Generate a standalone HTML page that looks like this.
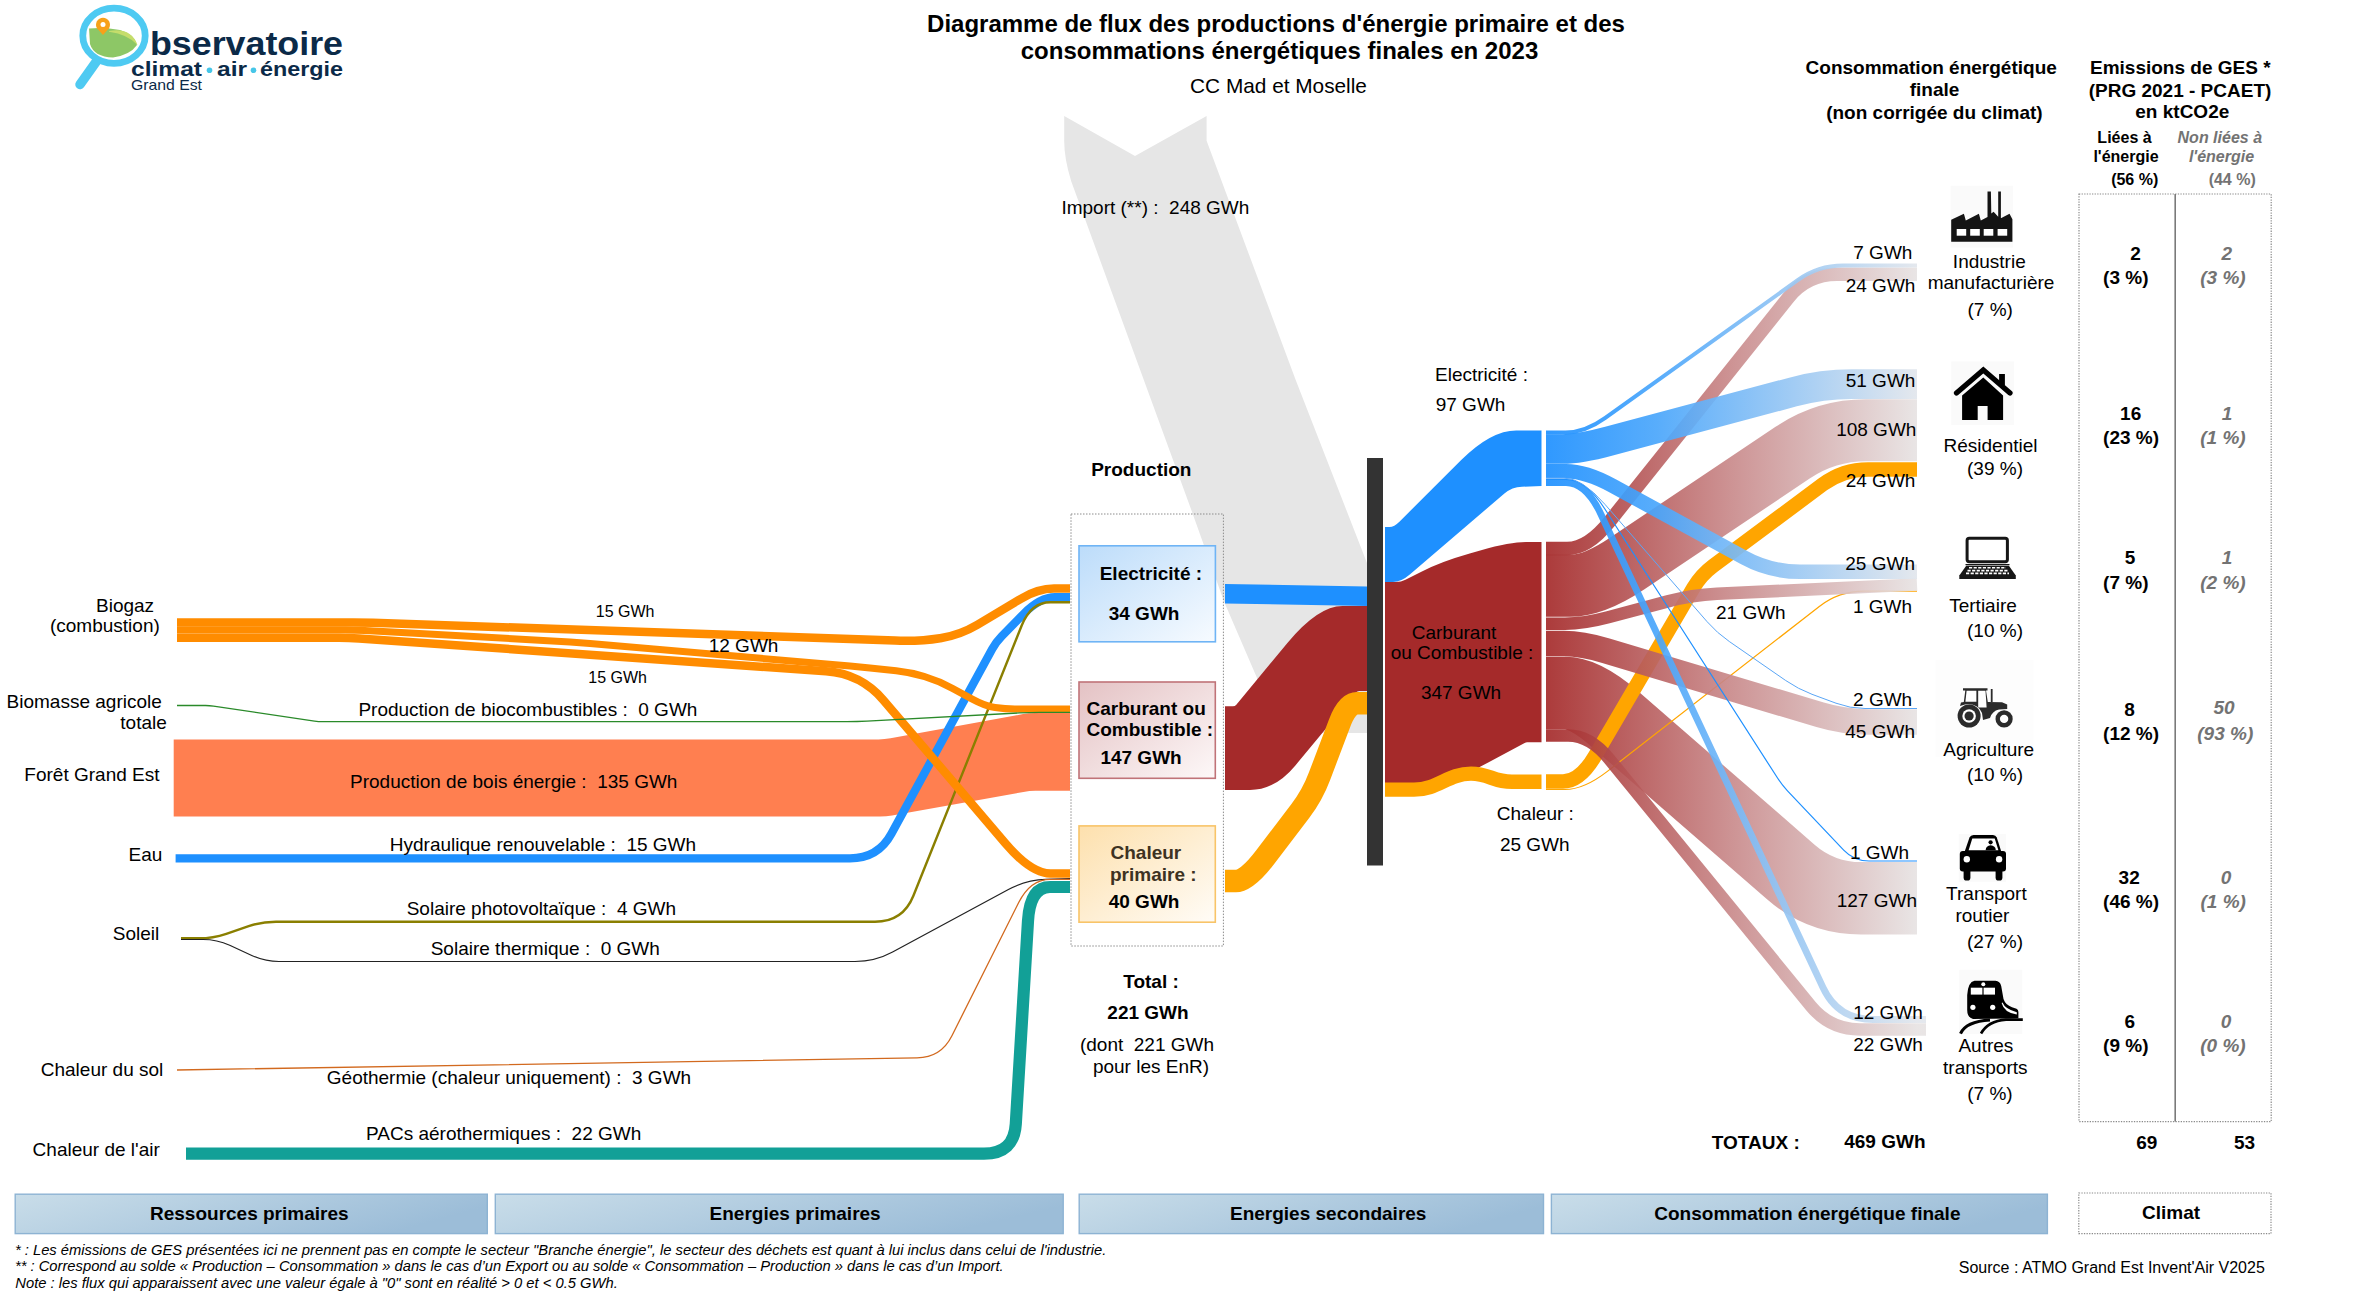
<!DOCTYPE html>
<html><head><meta charset="utf-8"><title>Diagramme de flux</title>
<style>
html,body{margin:0;padding:0;background:#fff;}
svg{display:block;font-family:"Liberation Sans",sans-serif;}
</style></head><body>
<svg width="2370" height="1299" viewBox="0 0 2370 1299">
<defs>
<linearGradient id="gElecBox" x1="0" y1="0" x2="1" y2="1"><stop offset="0" stop-color="#bcdcfa"/><stop offset="1" stop-color="#f7fbff"/></linearGradient>
<linearGradient id="gCarbBox" x1="0" y1="0" x2="1" y2="1"><stop offset="0" stop-color="#e4c2c4"/><stop offset="1" stop-color="#fdf8f8"/></linearGradient>
<linearGradient id="gChalBox" x1="0" y1="0" x2="1" y2="1"><stop offset="0" stop-color="#fde0ad"/><stop offset="1" stop-color="#fffcf7"/></linearGradient>
<linearGradient id="gBar" x1="0" y1="0" x2="1" y2="0.3"><stop offset="0" stop-color="#c9dde9"/><stop offset="1" stop-color="#9cbdd8"/></linearGradient>
<linearGradient id="gBlue" gradientUnits="userSpaceOnUse" x1="1546" y1="0" x2="1917" y2="0"><stop offset="0" stop-color="#1e90ff"/><stop offset="0.3" stop-color="#4aa6fb"/><stop offset="1" stop-color="#e2e6ec"/></linearGradient>
<linearGradient id="gRed" gradientUnits="userSpaceOnUse" x1="1546" y1="0" x2="1917" y2="0"><stop offset="0" stop-color="#a52a2a"/><stop offset="0.5" stop-color="#c98a8b"/><stop offset="1" stop-color="#e7e3e3"/></linearGradient>
</defs>
<rect x="0" y="0" width="2370" height="1299" fill="#fff"/>
<path d="M1064.2,116 L1135,156 L1206.6,116 L1206.6,140.7 L1295.7,380 L1367,563 L1367,733 L1322,733 Q1272,733 1256.6,677 L1224,601.6 L1191.7,511 L1071.3,181.5 Q1064,158 1064.2,140 Z" fill="#e6e6e6"/>
<path d="M173.7,739.4 L878.6,739.4 Q884.6,739.4 890.5,738.3 L1023.1,714.1 Q1029.0,713.0 1035.0,713.0 L1070.0,713.0 L1070.0,790.8 L1035.4,790.8 Q1029.4,790.8 1023.5,791.9 L892.1,815.4 Q886.2,816.5 880.2,816.5 L173.7,816.5 Z" fill="#ff7f50"/>
<path d="M175.6,858.4 L850.0,858.4 Q878.0,858.4 891.4,833.8 L992.2,649.0 Q996.0,642.0 1001.6,636.3 L1023.2,614.3 Q1040.0,597.2 1055.0,597.2 L1070.0,597.2" fill="none" stroke="#1e90ff" stroke-width="8.3" stroke-linejoin="round" />
<path d="M181.0,938.3 L199.0,938.3 Q213.0,938.3 226.3,933.8 L248.7,926.2 Q262.0,921.7 276.0,921.7 L875.0,921.7 Q903.0,921.7 913.4,895.7 L1021.7,625.5 Q1031.0,602.3 1050.5,602.3 L1070.0,602.3" fill="none" stroke="#8a7f00" stroke-width="2.4" stroke-linejoin="round" />
<path d="M181.0,939.5 L203.0,939.5 Q217.0,939.5 229.7,945.3 L252.3,955.7 Q265.0,961.5 279.0,961.5 L855.0,961.5 Q875.0,961.5 892.6,952.0 L1008.4,889.5 Q1026.0,880.0 1046.0,879.4 L1070.0,878.6" fill="none" stroke="#222" stroke-width="1.2" stroke-linejoin="round" />
<path d="M177.0,1070.0 L917.0,1057.9 Q941.0,1057.5 951.8,1036.0 L1018.7,902.5 Q1030.4,879.3 1050.2,879.3 L1070.0,879.3" fill="none" stroke="#d2691e" stroke-width="1.3" stroke-linejoin="round" />
<path d="M186.0,1153.7 L984.0,1153.7 Q1014.0,1153.7 1015.8,1123.8 L1028.0,920.9 Q1030.0,887.0 1050.0,887.0 L1070.0,887.0" fill="none" stroke="#12a097" stroke-width="12.2" stroke-linejoin="round" />
<path d="M177.0,622.4 L353.0,622.4 Q363.0,622.4 373.0,622.7 L895.0,640.6 Q920.0,641.5 940.0,638.2 L940.3,638.2 Q960.0,635.0 977.2,624.8 L1020.8,598.8 Q1038.0,588.6 1054.0,588.6 L1070.0,588.6" fill="none" stroke="#ff8c00" stroke-width="8.5" stroke-linejoin="round" />
<path d="M177.0,630.0 L345.0,630.0 Q355.0,630.0 365.0,630.6 L570.0,641.9 Q580.0,642.5 590.0,643.4 L850.0,666.1 Q860.0,667.0 869.9,668.1 L896.2,670.8 Q926.0,674.0 952.4,688.3 L971.8,698.8 Q985.0,706.0 995.0,707.5 L995.1,707.5 Q1005.0,709.0 1015.0,709.0 L1070.0,709.0" fill="none" stroke="#ff8c00" stroke-width="7.0" stroke-linejoin="round" />
<path d="M177.0,637.8 L339.0,637.8 Q349.0,637.8 359.0,638.5 L826.1,671.3 Q861.0,673.7 883.7,700.4 L1005.1,843.0 Q1031.0,873.5 1050.5,873.5 L1070.0,873.5" fill="none" stroke="#ff8c00" stroke-width="8.5" stroke-linejoin="round" />
<path d="M177.0,705.5 L205.5,705.5 Q209.5,705.5 213.5,706.1 L314.5,721.1 Q318.5,721.7 322.5,721.7 L847.0,721.7 Q857.0,721.7 867.0,721.2 L1019.4,712.9 Q1029.4,712.4 1039.4,712.4 L1070.0,712.4" fill="none" stroke="#2a8a2a" stroke-width="1.3" stroke-linejoin="round" />
<rect x="1071" y="514" width="152.4" height="432" fill="none" stroke="#8c8c8c" stroke-width="1" stroke-dasharray="1.5,1.5"/>
<rect x="1079" y="545.8" width="136.4" height="96" fill="url(#gElecBox)" stroke="#6fb4f5" stroke-width="1.6"/>
<rect x="1079" y="682" width="136.3" height="96.3" fill="url(#gCarbBox)" stroke="#c07378" stroke-width="1.6"/>
<rect x="1079" y="825.9" width="136.3" height="96.3" fill="url(#gChalBox)" stroke="#f8c468" stroke-width="1.6"/>
<path d="M1225,583.9 L1367,586.5 L1367,605.9 L1225,603.6 Z" fill="#1e90ff"/>
<path d="M1225.0,706.2 L1233.0,706.2 Q1235.0,706.2 1236.3,704.7 L1287.4,642.9 Q1318.0,605.9 1342.5,605.9 L1367.0,605.9 L1367.0,691.0 L1359.2,691.0 Q1357.2,691.0 1355.9,692.5 L1295.4,765.4 Q1275.0,790.0 1250.0,790.0 L1225.0,790.0 Z" fill="#a52a2a"/>
<path d="M1225.0,881.0 L1236.0,881.0 Q1247.0,881.0 1265.2,857.1 L1300.4,810.9 Q1312.5,795.0 1319.5,776.3 L1339.3,723.9 Q1347.0,703.3 1357.0,703.3 L1367.0,703.3" fill="none" stroke="#ffa500" stroke-width="22.5" stroke-linejoin="round" />
<rect x="1367" y="458" width="16" height="407.5" fill="#333333"/>
<path d="M1385.0,527.0 L1389.5,527.0 Q1394.0,527.0 1399.7,521.4 L1461.2,460.1 Q1491.0,430.5 1516.2,430.5 L1541.5,430.5 L1541.5,486.0 L1522.0,486.7 Q1512.0,487.0 1504.4,493.5 L1410.1,574.2 Q1401.0,582.0 1393.0,582.0 L1385.0,582.0 Z" fill="#1e90ff"/>
<path d="M1385.0,582.0 L1396.0,582.0 Q1401.0,582.0 1405.5,579.7 L1420.9,571.9 Q1440.8,561.7 1469.7,553.5 L1481.1,550.3 Q1510.0,542.1 1525.8,542.1 L1541.5,542.1 L1541.5,742.2 L1527.0,742.2 Q1526.0,742.2 1525.1,742.7 L1480.6,766.6 Q1478.0,768.0 1475.4,769.5 L1474.5,770.0 Q1471.0,772.0 1466.1,773.2 L1423.7,783.6 Q1414.0,786.0 1404.0,786.0 L1385.0,786.0 Z" fill="#a52a2a"/>
<path d="M1385,789.6 L1414,789.6 C1438,789.6 1448,773.6 1471,773.6 C1489,773.6 1493,781.8 1512,781.8 L1541.5,781.8" fill="none" stroke="#ffa500" stroke-width="14.4"/>
<path d="M1546.0,693.0 L1565.5,693.0 Q1585.0,693.0 1615.2,719.3 L1790.8,872.0 Q1821.0,898.3 1861.0,898.3 L1917.0,898.3" fill="none" stroke="url(#gRed)" stroke-width="72.5" stroke-linejoin="round" opacity="0.92"/>
<path d="M1546.0,781.5 L1563.0,781.5 Q1580.0,781.5 1595.2,755.6 L1693.4,587.9 Q1701.0,575.0 1713.0,566.0 L1822.9,484.3 Q1843.0,469.4 1868.0,469.4 L1917.0,469.4" fill="none" stroke="#ffa500" stroke-width="14.5" stroke-linejoin="round" />
<path d="M1546.0,789.5 L1565.0,789.5 Q1584.0,789.5 1607.7,771.1 L1819.3,606.5 Q1839.0,591.2 1864.0,591.2 L1917.0,591.2" fill="none" stroke="#ffa500" stroke-width="1.2" stroke-linejoin="round" />
<path d="M1546.0,548.5 L1567.0,548.5 Q1588.0,548.5 1609.8,521.2 L1788.3,297.7 Q1807.0,274.3 1837.0,274.3 L1917.0,274.3" fill="none" stroke="url(#gRed)" stroke-width="13.5" stroke-linejoin="round" opacity="0.92"/>
<path d="M1546.0,585.8 L1570.0,585.8 Q1594.0,585.8 1627.2,563.5 L1792.8,452.6 Q1826.0,430.3 1866.0,430.3 L1917.0,430.3" fill="none" stroke="url(#gRed)" stroke-width="62.0" stroke-linejoin="round" opacity="0.92"/>
<path d="M1546.0,623.7 L1565.0,623.7 Q1584.0,623.7 1608.2,617.3 L1667.8,601.4 Q1692.0,595.0 1717.0,593.8 L1917.0,584.5" fill="none" stroke="url(#gRed)" stroke-width="12.5" stroke-linejoin="round" opacity="0.92"/>
<path d="M1546.0,643.5 L1564.0,643.5 Q1582.0,643.5 1605.9,650.7 L1820.1,714.8 Q1844.0,722.0 1869.0,722.0 L1917.0,722.0" fill="none" stroke="url(#gRed)" stroke-width="25.7" stroke-linejoin="round" opacity="0.92"/>
<path d="M1546.0,735.5 L1568.0,735.5 Q1590.0,735.5 1609.0,758.7 L1811.0,1006.2 Q1830.0,1029.4 1860.0,1029.4 L1926.0,1029.4" fill="none" stroke="url(#gRed)" stroke-width="12.5" stroke-linejoin="round" opacity="0.92"/>
<path d="M1546.0,432.5 L1565.5,432.5 Q1585.0,432.5 1605.3,417.9 L1797.7,280.2 Q1818.0,265.6 1843.0,265.6 L1917.0,265.6" fill="none" stroke="url(#gBlue)" stroke-width="4.0" stroke-linejoin="round" opacity="0.92"/>
<path d="M1546.0,449.0 L1563.0,449.0 Q1580.0,449.0 1609.0,441.2 L1793.0,392.0 Q1822.0,384.2 1852.0,384.2 L1917.0,384.2" fill="none" stroke="url(#gBlue)" stroke-width="29.7" stroke-linejoin="round" opacity="0.92"/>
<path d="M1546.0,471.2 L1566.0,471.2 Q1586.0,471.2 1612.3,485.6 L1743.7,557.4 Q1770.0,571.8 1800.0,571.8 L1917.0,571.8" fill="none" stroke="url(#gBlue)" stroke-width="14.6" stroke-linejoin="round" opacity="0.92"/>
<path d="M1546.0,482.5 L1566.0,482.5 Q1586.0,482.5 1600.9,514.2 L1823.1,987.8 Q1838.0,1019.5 1873.0,1019.5 L1926.0,1019.5" fill="none" stroke="url(#gBlue)" stroke-width="6.8" stroke-linejoin="round" opacity="0.92"/>
<path d="M1546.0,479.5 L1566.0,479.5 Q1586.0,479.5 1604.9,509.0 L1777.7,778.3 Q1782.0,785.0 1787.5,790.8 L1843.7,850.1 Q1854.0,861.0 1869.0,861.0 L1917.0,861.0" fill="none" stroke="#1e90ff" stroke-width="1.2" stroke-linejoin="round" />
<path d="M1546.0,478.0 L1564.0,478.0 Q1582.0,478.0 1605.0,504.4 L1707.1,621.7 Q1717.0,633.0 1729.3,641.5 L1785.7,680.5 Q1798.0,689.0 1812.0,694.3 L1836.0,703.2 Q1850.0,708.5 1865.0,708.5 L1917.0,708.5" fill="none" stroke="#5aa6f6" stroke-width="1.0" stroke-linejoin="round" />
<rect x="2079" y="194" width="192.2" height="927.6" fill="none" stroke="#8a8a8a" stroke-width="1.2" stroke-dasharray="1.3,1.3"/>
<line x1="2175.2" y1="194" x2="2175.2" y2="1121.6" stroke="#7a7a7a" stroke-width="1.6"/>
<rect x="15.2" y="1194.2" width="472.1" height="39.4" fill="url(#gBar)" stroke="#8db3d3" stroke-width="1.4"/>
<rect x="495.3" y="1194.2" width="567.9" height="39.4" fill="url(#gBar)" stroke="#8db3d3" stroke-width="1.4"/>
<rect x="1079.2" y="1194.2" width="464.3" height="39.4" fill="url(#gBar)" stroke="#8db3d3" stroke-width="1.4"/>
<rect x="1551.4" y="1194.2" width="496.0" height="39.4" fill="url(#gBar)" stroke="#8db3d3" stroke-width="1.4"/>
<rect x="2078.8" y="1193" width="192.2" height="40.6" fill="none" stroke="#8a8a8a" stroke-width="1.2" stroke-dasharray="1.3,1.3"/>

<rect x="1950.6" y="185.8" width="62.4" height="61.8" fill="#fafafa"/>
<path d="M1951.2,241.8 L1951.2,219.8 L1963.9,213.7 L1965.8,220.5 L1978.9,213.7 L1980.8,220.5 L1987.5,217 L1987.5,191.5 L1990.9,191.5 L1991.3,213.5 L1993.6,211.8 L1998.2,216.8 L1998.2,191.5 L2000.9,191.5 L2000.9,218.2 L2009.5,213.7 L2012.4,219.3 L2012.4,241.8 Z" fill="#141414"/>
<g fill="#fff"><rect x="1956.7" y="229" width="9.5" height="6.7"/><rect x="1970.2" y="229" width="9.6" height="6.7"/><rect x="1983.7" y="229" width="9.6" height="6.7"/><rect x="1997.6" y="229" width="9.6" height="6.7"/></g>
<rect x="1951.2" y="361.5" width="62.9" height="63.5" fill="#fafafa"/>
<polyline points="1956.5,393 1983.3,370 2010,393" fill="none" stroke="#000" stroke-width="5.2" stroke-linecap="round" stroke-linejoin="miter"/>
<rect x="1999.1" y="374" width="5.8" height="11" fill="#000"/>
<path d="M1962.1,395.6 L1983.3,377.6 L2003.1,395.6 L2003.1,419.9 L1987.6,419.9 L1987.6,406 L1977.7,406 L1977.7,419.9 L1962.1,419.9 Z" fill="#000"/>
<rect x="1967.1" y="538.2" width="40.3" height="23.6" rx="2.2" fill="none" stroke="#161616" stroke-width="3"/>
<path d="M1965.5,564 L2009.5,564 L2009.5,565.3 L1965.5,565.3 Z" fill="#161616"/>
<path d="M1966.2,565.8 L2008.9,565.8 L2015.8,575.5 L2015.8,578.9 L1959.3,578.9 L1959.3,575.5 Z" fill="#161616"/>
<g stroke="#fff" stroke-width="1.6" stroke-dasharray="3.2,1.4"><line x1="1969" y1="567.8" x2="2006" y2="567.8"/><line x1="1967.5" y1="570.6" x2="2007.5" y2="570.6"/><line x1="1966" y1="573.4" x2="2009" y2="573.4"/></g>
<rect x="1935.6" y="660" width="98" height="97" fill="#fdfdfd"/>
<g fill="#2b2b2b">
<circle cx="1969.1" cy="716" r="11.5"/><circle cx="2004.1" cy="718.9" r="8.6"/>
<path d="M1963,688.3 L1987.5,688.3 L1987.5,690.6 L1986,690.6 L1987.8,702 L2002,702.2 L2007.2,704.5 L2007.2,709 L1999,709.5 Q1992,711 1990,718 L1983,720 L1982,713 Q1978,703 1965,704.5 L1960,706 L1961,702.5 L1963.8,702 L1965.3,690.6 L1963,690.6 Z"/>
<rect x="1990.8" y="689" width="1.8" height="13"/>
</g>
<g fill="#fff">
<circle cx="1969.1" cy="716" r="6.8"/><circle cx="2004.1" cy="718.9" r="4.2"/>
<path d="M1966.6,690.8 L1976.4,690.8 L1976.4,701.8 L1965.4,701.8 Z"/><path d="M1978.2,690.8 L1985.5,690.8 L1986.6,707.5 L1978.2,707.5 Z"/>
</g>
<circle cx="1969.1" cy="716" r="4.6" fill="#2b2b2b"/>
<rect x="1958.7" y="833.9" width="47.3" height="47.9" fill="#fafafa"/>
<path d="M1964.5,852 L1969.5,837.6 Q1970.6,835 1973.5,835 L1993,835 Q1995.7,835 1996.8,837.6 L2001.4,852 Z" fill="#000"/>
<path d="M1968.6,850.2 L1972.3,838.6 L1994.7,838.6 L1998.4,850.2 Z" fill="#fff"/>
<circle cx="1990.6" cy="842.3" r="2.1" fill="#000"/><path d="M1985.6,850.2 Q1986,845.6 1990.6,845.3 Q1995.5,845.6 1995.8,850.2 Z" fill="#000"/>
<rect x="1959.8" y="851" width="46.2" height="20.4" rx="3" fill="#000"/>
<circle cx="1966.8" cy="859.3" r="3.2" fill="#fff"/><circle cx="1999.1" cy="859.3" r="3.2" fill="#fff"/>
<rect x="1963.6" y="868" width="6.8" height="12.6" rx="3.2" fill="#000"/><rect x="1995.6" y="868" width="6.8" height="12.6" rx="3.2" fill="#000"/>
<rect x="1959.3" y="969.8" width="62.9" height="64.1" fill="#fafafa"/>
<path d="M1974.5,980.8 L1995.5,980.8 Q2000,981 2001.2,986 L2003.5,999 Q2005.5,1005 2012,1007.2 L2016.5,1008.8 Q2018.4,1009.8 2018.4,1012 L2018.4,1018.2 L2010,1018.6 L1973,1018.9 Q1967.2,1017.5 1967.2,1010 L1967.2,995 Q1968,982 1974.5,980.8 Z" fill="#000"/>
<path d="M2002.5,1002.5 Q2005,1009 2016.8,1012.2 L2016.8,1014.6 Q2004,1012.5 2001.6,1003 Z" fill="#fff"/>
<rect x="1970.8" y="987.7" width="11.6" height="6.9" fill="#fff"/><rect x="1983.6" y="987.7" width="11.4" height="6.9" fill="#fff"/>
<circle cx="1983.3" cy="984.2" r="2" fill="#fff"/>
<circle cx="1972.9" cy="1007.3" r="2.6" fill="#fff"/><circle cx="1992.7" cy="1007.3" r="2.6" fill="#fff"/>
<path d="M1960.5,1033.5 Q1966,1021.5 1990,1020" fill="none" stroke="#000" stroke-width="3"/>
<path d="M1981,1033.5 Q1988,1021 2006,1019.6 L2022.8,1019.6" fill="none" stroke="#000" stroke-width="2.6"/>


<g>
<path d="M89,28.5 Q104,27 120,30 Q134,34 137,45 Q130,55 113,57.5 Q94,57 90,44 Z" fill="#8dc766"/>
<path d="M109,31 Q131,27 137.5,45 Q128,34.5 109,31.8 Z" fill="#c5dd6b"/>
<ellipse cx="114" cy="35.8" rx="31.2" ry="27.6" fill="none" stroke="#4ecaf2" stroke-width="6.8"/>
<line x1="96" y1="62" x2="80" y2="84.5" stroke="#4ecaf2" stroke-width="9.5" stroke-linecap="round"/>
<path d="M103,35 L96.9,28.3 A7,7 0 1 1 109.1,28.3 Z" fill="#f7a11a"/>
<circle cx="103" cy="24.6" r="2.5" fill="#fff"/>
<text x="150" y="54.5" font-size="34" font-weight="bold" fill="#0b2a48" textLength="193" lengthAdjust="spacingAndGlyphs">bservatoire</text>
<text x="131" y="76" font-size="21" font-weight="bold" fill="#0b2a48" textLength="71" lengthAdjust="spacingAndGlyphs">climat</text>
<text x="217" y="76" font-size="21" font-weight="bold" fill="#0b2a48" textLength="30" lengthAdjust="spacingAndGlyphs">air</text>
<text x="260" y="76" font-size="21" font-weight="bold" fill="#0b2a48" textLength="83" lengthAdjust="spacingAndGlyphs">énergie</text>
<circle cx="209.5" cy="70.3" r="2.8" fill="#46c6e8"/>
<circle cx="253.5" cy="70.3" r="2.8" fill="#46c6e8"/>
<text x="131" y="90" font-size="14.5" fill="#0b2a48" textLength="71" lengthAdjust="spacingAndGlyphs">Grand Est</text>
</g>
<text x="1276.0" y="32.0" font-size="24" font-weight="bold" font-style="normal" text-anchor="middle" fill="#000" >Diagramme de flux des productions d'énergie primaire et des</text>
<text x="1279.5" y="59.0" font-size="24" font-weight="bold" font-style="normal" text-anchor="middle" fill="#000" >consommations énergétiques finales en 2023</text>
<text x="1278.5" y="93.0" font-size="20.8" font-weight="normal" font-style="normal" text-anchor="middle" fill="#000" >CC Mad et Moselle</text>
<text x="1061.4" y="213.7" font-size="19" font-weight="normal" font-style="normal" text-anchor="start" fill="#000" xml:space="preserve">Import (**) :  248 GWh</text>
<text x="1091.2" y="475.9" font-size="19" font-weight="bold" font-style="normal" text-anchor="start" fill="#000" >Production</text>
<text x="1099.7" y="579.7" font-size="19" font-weight="bold" font-style="normal" text-anchor="start" fill="#000" >Electricité :</text>
<text x="1108.7" y="619.5" font-size="19" font-weight="bold" font-style="normal" text-anchor="start" fill="#000" >34 GWh</text>
<text x="1086.5" y="714.8" font-size="19" font-weight="bold" font-style="normal" text-anchor="start" fill="#000" >Carburant ou</text>
<text x="1086.5" y="736.2" font-size="19" font-weight="bold" font-style="normal" text-anchor="start" fill="#000" >Combustible :</text>
<text x="1100.4" y="763.5" font-size="19" font-weight="bold" font-style="normal" text-anchor="start" fill="#000" >147 GWh</text>
<text x="1110.5" y="859.2" font-size="19" font-weight="bold" font-style="normal" text-anchor="start" fill="#3d3222" >Chaleur</text>
<text x="1110.0" y="880.7" font-size="19" font-weight="bold" font-style="normal" text-anchor="start" fill="#3d3222" >primaire :</text>
<text x="1108.7" y="907.7" font-size="19" font-weight="bold" font-style="normal" text-anchor="start" fill="#000" >40 GWh</text>
<text x="1151.0" y="987.6" font-size="19" font-weight="bold" font-style="normal" text-anchor="middle" fill="#000" >Total :</text>
<text x="1148.0" y="1019.3" font-size="19" font-weight="bold" font-style="normal" text-anchor="middle" fill="#000" >221 GWh</text>
<text x="1147.0" y="1050.7" font-size="19" font-weight="normal" font-style="normal" text-anchor="middle" fill="#000" xml:space="preserve">(dont  221 GWh</text>
<text x="1151.0" y="1072.7" font-size="19" font-weight="normal" font-style="normal" text-anchor="middle" fill="#000" >pour les EnR)</text>
<text x="154.1" y="611.6" font-size="19" font-weight="normal" font-style="normal" text-anchor="end" fill="#000" >Biogaz</text>
<text x="159.8" y="632.4" font-size="19" font-weight="normal" font-style="normal" text-anchor="end" fill="#000" >(combustion)</text>
<text x="161.8" y="707.8" font-size="19" font-weight="normal" font-style="normal" text-anchor="end" fill="#000" >Biomasse agricole</text>
<text x="166.8" y="729.4" font-size="19" font-weight="normal" font-style="normal" text-anchor="end" fill="#000" >totale</text>
<text x="159.5" y="780.5" font-size="19" font-weight="normal" font-style="normal" text-anchor="end" fill="#000" >Forêt Grand Est</text>
<text x="162.3" y="860.9" font-size="19" font-weight="normal" font-style="normal" text-anchor="end" fill="#000" >Eau</text>
<text x="159.2" y="940.2" font-size="19" font-weight="normal" font-style="normal" text-anchor="end" fill="#000" >Soleil</text>
<text x="163.3" y="1076.2" font-size="19" font-weight="normal" font-style="normal" text-anchor="end" fill="#000" >Chaleur du sol</text>
<text x="159.8" y="1156.0" font-size="19" font-weight="normal" font-style="normal" text-anchor="end" fill="#000" >Chaleur de l'air</text>
<text x="595.8" y="616.5" font-size="16" font-weight="normal" font-style="normal" text-anchor="start" fill="#000" >15 GWh</text>
<text x="708.7" y="652.1" font-size="19" font-weight="normal" font-style="normal" text-anchor="start" fill="#000" >12 GWh</text>
<text x="588.3" y="683.2" font-size="16" font-weight="normal" font-style="normal" text-anchor="start" fill="#000" >15 GWh</text>
<text x="358.4" y="715.5" font-size="19" font-weight="normal" font-style="normal" text-anchor="start" fill="#000" xml:space="preserve">Production de biocombustibles :  0 GWh</text>
<text x="350.0" y="787.5" font-size="19" font-weight="normal" font-style="normal" text-anchor="start" fill="#000" xml:space="preserve">Production de bois énergie :  135 GWh</text>
<text x="389.8" y="851.4" font-size="19" font-weight="normal" font-style="normal" text-anchor="start" fill="#000" xml:space="preserve">Hydraulique renouvelable :  15 GWh</text>
<text x="406.7" y="915.4" font-size="19" font-weight="normal" font-style="normal" text-anchor="start" fill="#000" xml:space="preserve">Solaire photovoltaïque :  4 GWh</text>
<text x="430.7" y="955.4" font-size="19" font-weight="normal" font-style="normal" text-anchor="start" fill="#000" xml:space="preserve">Solaire thermique :  0 GWh</text>
<text x="326.8" y="1083.8" font-size="19" font-weight="normal" font-style="normal" text-anchor="start" fill="#000" xml:space="preserve">Géothermie (chaleur uniquement) :  3 GWh</text>
<text x="366.0" y="1139.5" font-size="19" font-weight="normal" font-style="normal" text-anchor="start" fill="#000" xml:space="preserve">PACs aérothermiques :  22 GWh</text>
<text x="1435.0" y="380.8" font-size="19" font-weight="normal" font-style="normal" text-anchor="start" fill="#000" >Electricité :</text>
<text x="1435.7" y="410.9" font-size="19" font-weight="normal" font-style="normal" text-anchor="start" fill="#000" >97 GWh</text>
<text x="1454.0" y="638.5" font-size="19" font-weight="normal" font-style="normal" text-anchor="middle" fill="#000" >Carburant</text>
<text x="1462.0" y="659.2" font-size="19" font-weight="normal" font-style="normal" text-anchor="middle" fill="#000" >ou Combustible :</text>
<text x="1420.9" y="699.2" font-size="19" font-weight="normal" font-style="normal" text-anchor="start" fill="#000" >347 GWh</text>
<text x="1496.8" y="820.1" font-size="19" font-weight="normal" font-style="normal" text-anchor="start" fill="#000" >Chaleur :</text>
<text x="1499.9" y="850.9" font-size="19" font-weight="normal" font-style="normal" text-anchor="start" fill="#000" >25 GWh</text>
<text x="1912.4" y="259.4" font-size="19" font-weight="normal" font-style="normal" text-anchor="end" fill="#000" >7 GWh</text>
<text x="1915.4" y="291.7" font-size="19" font-weight="normal" font-style="normal" text-anchor="end" fill="#000" >24 GWh</text>
<text x="1915.4" y="386.8" font-size="19" font-weight="normal" font-style="normal" text-anchor="end" fill="#000" >51 GWh</text>
<text x="1916.4" y="436.2" font-size="19" font-weight="normal" font-style="normal" text-anchor="end" fill="#000" >108 GWh</text>
<text x="1915.4" y="487.3" font-size="19" font-weight="normal" font-style="normal" text-anchor="end" fill="#000" >24 GWh</text>
<text x="1915.0" y="569.6" font-size="19" font-weight="normal" font-style="normal" text-anchor="end" fill="#000" >25 GWh</text>
<text x="1912.1" y="612.5" font-size="19" font-weight="normal" font-style="normal" text-anchor="end" fill="#000" >1 GWh</text>
<text x="1912.2" y="706.0" font-size="19" font-weight="normal" font-style="normal" text-anchor="end" fill="#000" >2 GWh</text>
<text x="1915.0" y="738.2" font-size="19" font-weight="normal" font-style="normal" text-anchor="end" fill="#000" >45 GWh</text>
<text x="1909.1" y="859.2" font-size="19" font-weight="normal" font-style="normal" text-anchor="end" fill="#000" >1 GWh</text>
<text x="1917.0" y="906.8" font-size="19" font-weight="normal" font-style="normal" text-anchor="end" fill="#000" >127 GWh</text>
<text x="1922.9" y="1019.2" font-size="19" font-weight="normal" font-style="normal" text-anchor="end" fill="#000" >12 GWh</text>
<text x="1922.9" y="1051.0" font-size="19" font-weight="normal" font-style="normal" text-anchor="end" fill="#000" >22 GWh</text>
<text x="1716.0" y="618.8" font-size="19" font-weight="normal" font-style="normal" text-anchor="start" fill="#000" >21 GWh</text>
<text x="1989.3" y="268.3" font-size="19" font-weight="normal" font-style="normal" text-anchor="middle" fill="#000" >Industrie</text>
<text x="1991.0" y="289.1" font-size="19" font-weight="normal" font-style="normal" text-anchor="middle" fill="#000" >manufacturière</text>
<text x="1990.2" y="316.3" font-size="19" font-weight="normal" font-style="normal" text-anchor="middle" fill="#000" >(7 %)</text>
<text x="1990.5" y="452.2" font-size="19" font-weight="normal" font-style="normal" text-anchor="middle" fill="#000" >Résidentiel</text>
<text x="1995.0" y="475.3" font-size="19" font-weight="normal" font-style="normal" text-anchor="middle" fill="#000" >(39 %)</text>
<text x="1983.0" y="612.4" font-size="19" font-weight="normal" font-style="normal" text-anchor="middle" fill="#000" >Tertiaire</text>
<text x="1995.0" y="636.6" font-size="19" font-weight="normal" font-style="normal" text-anchor="middle" fill="#000" >(10 %)</text>
<text x="1988.7" y="756.4" font-size="19" font-weight="normal" font-style="normal" text-anchor="middle" fill="#000" >Agriculture</text>
<text x="1995.0" y="781.2" font-size="19" font-weight="normal" font-style="normal" text-anchor="middle" fill="#000" >(10 %)</text>
<text x="1986.4" y="900.3" font-size="19" font-weight="normal" font-style="normal" text-anchor="middle" fill="#000" >Transport</text>
<text x="1982.4" y="921.6" font-size="19" font-weight="normal" font-style="normal" text-anchor="middle" fill="#000" >routier</text>
<text x="1995.0" y="948.2" font-size="19" font-weight="normal" font-style="normal" text-anchor="middle" fill="#000" >(27 %)</text>
<text x="1985.9" y="1052.4" font-size="19" font-weight="normal" font-style="normal" text-anchor="middle" fill="#000" >Autres</text>
<text x="1985.3" y="1073.7" font-size="19" font-weight="normal" font-style="normal" text-anchor="middle" fill="#000" >transports</text>
<text x="1990.0" y="1100.3" font-size="19" font-weight="normal" font-style="normal" text-anchor="middle" fill="#000" >(7 %)</text>
<text x="1931.2" y="73.6" font-size="19" font-weight="bold" font-style="normal" text-anchor="middle" fill="#000" >Consommation énergétique</text>
<text x="1934.5" y="95.5" font-size="19" font-weight="bold" font-style="normal" text-anchor="middle" fill="#000" >finale</text>
<text x="1934.4" y="118.5" font-size="19" font-weight="bold" font-style="normal" text-anchor="middle" fill="#000" >(non corrigée du climat)</text>
<text x="2180.3" y="74.3" font-size="19" font-weight="bold" font-style="normal" text-anchor="middle" fill="#000" >Emissions de GES *</text>
<text x="2180.0" y="96.8" font-size="19" font-weight="bold" font-style="normal" text-anchor="middle" fill="#000" >(PRG 2021 - PCAET)</text>
<text x="2182.3" y="118.1" font-size="19" font-weight="bold" font-style="normal" text-anchor="middle" fill="#000" >en ktCO2e</text>
<text x="2124.5" y="143.0" font-size="16" font-weight="bold" font-style="normal" text-anchor="middle" fill="#000" >Liées à</text>
<text x="2126.0" y="162.0" font-size="16" font-weight="bold" font-style="normal" text-anchor="middle" fill="#000" >l'énergie</text>
<text x="2134.7" y="184.5" font-size="16" font-weight="bold" font-style="normal" text-anchor="middle" fill="#000" >(56 %)</text>
<text x="2219.8" y="143.0" font-size="16" font-weight="bold" font-style="italic" text-anchor="middle" fill="#737373" >Non liées à</text>
<text x="2221.5" y="162.0" font-size="16" font-weight="bold" font-style="italic" text-anchor="middle" fill="#737373" >l'énergie</text>
<text x="2232.2" y="184.5" font-size="16" font-weight="bold" font-style="normal" text-anchor="middle" fill="#737373" >(44 %)</text>
<text x="2130.3" y="259.9" font-size="19" font-weight="bold" font-style="normal" text-anchor="start" fill="#000" >2</text>
<text x="2103.1" y="283.9" font-size="19" font-weight="bold" font-style="normal" text-anchor="start" fill="#000" >(3 %)</text>
<text x="2221.6" y="259.9" font-size="19" font-weight="bold" font-style="italic" text-anchor="start" fill="#737373" >2</text>
<text x="2200.3" y="283.9" font-size="19" font-weight="bold" font-style="italic" text-anchor="start" fill="#737373" >(3 %)</text>
<text x="2120.1" y="420.0" font-size="19" font-weight="bold" font-style="normal" text-anchor="start" fill="#000" >16</text>
<text x="2103.1" y="444.0" font-size="19" font-weight="bold" font-style="normal" text-anchor="start" fill="#000" >(23 %)</text>
<text x="2221.7" y="420.0" font-size="19" font-weight="bold" font-style="italic" text-anchor="start" fill="#737373" >1</text>
<text x="2200.3" y="444.0" font-size="19" font-weight="bold" font-style="italic" text-anchor="start" fill="#737373" >(1 %)</text>
<text x="2124.8" y="563.8" font-size="19" font-weight="bold" font-style="normal" text-anchor="start" fill="#000" >5</text>
<text x="2103.1" y="588.5" font-size="19" font-weight="bold" font-style="normal" text-anchor="start" fill="#000" >(7 %)</text>
<text x="2221.7" y="563.8" font-size="19" font-weight="bold" font-style="italic" text-anchor="start" fill="#737373" >1</text>
<text x="2200.3" y="588.5" font-size="19" font-weight="bold" font-style="italic" text-anchor="start" fill="#737373" >(2 %)</text>
<text x="2124.2" y="715.8" font-size="19" font-weight="bold" font-style="normal" text-anchor="start" fill="#000" >8</text>
<text x="2103.1" y="739.9" font-size="19" font-weight="bold" font-style="normal" text-anchor="start" fill="#000" >(12 %)</text>
<text x="2213.5" y="713.7" font-size="19" font-weight="bold" font-style="italic" text-anchor="start" fill="#737373" >50</text>
<text x="2197.3" y="739.9" font-size="19" font-weight="bold" font-style="italic" text-anchor="start" fill="#737373" >(93 %)</text>
<text x="2118.6" y="883.7" font-size="19" font-weight="bold" font-style="normal" text-anchor="start" fill="#000" >32</text>
<text x="2103.1" y="907.7" font-size="19" font-weight="bold" font-style="normal" text-anchor="start" fill="#000" >(46 %)</text>
<text x="2220.8" y="883.7" font-size="19" font-weight="bold" font-style="italic" text-anchor="start" fill="#737373" >0</text>
<text x="2200.5" y="907.7" font-size="19" font-weight="bold" font-style="italic" text-anchor="start" fill="#737373" >(1 %)</text>
<text x="2124.4" y="1027.6" font-size="19" font-weight="bold" font-style="normal" text-anchor="start" fill="#000" >6</text>
<text x="2103.1" y="1051.6" font-size="19" font-weight="bold" font-style="normal" text-anchor="start" fill="#000" >(9 %)</text>
<text x="2220.8" y="1027.6" font-size="19" font-weight="bold" font-style="italic" text-anchor="start" fill="#737373" >0</text>
<text x="2200.3" y="1051.6" font-size="19" font-weight="bold" font-style="italic" text-anchor="start" fill="#737373" >(0 %)</text>
<text x="1711.8" y="1148.6" font-size="19" font-weight="bold" font-style="normal" text-anchor="start" fill="#000" >TOTAUX :</text>
<text x="1844.2" y="1147.8" font-size="19" font-weight="bold" font-style="normal" text-anchor="start" fill="#000" >469 GWh</text>
<text x="2136.3" y="1148.6" font-size="19" font-weight="bold" font-style="normal" text-anchor="start" fill="#000" >69</text>
<text x="2234.0" y="1148.6" font-size="19" font-weight="bold" font-style="normal" text-anchor="start" fill="#000" >53</text>
<text x="150.0" y="1219.5" font-size="19" font-weight="bold" font-style="normal" text-anchor="start" fill="#000" >Ressources primaires</text>
<text x="709.6" y="1219.5" font-size="19" font-weight="bold" font-style="normal" text-anchor="start" fill="#000" >Energies primaires</text>
<text x="1230.0" y="1219.5" font-size="19" font-weight="bold" font-style="normal" text-anchor="start" fill="#000" >Energies secondaires</text>
<text x="1654.3" y="1219.5" font-size="19" font-weight="bold" font-style="normal" text-anchor="start" fill="#000" >Consommation énergétique finale</text>
<text x="2142.1" y="1219.1" font-size="19" font-weight="bold" font-style="normal" text-anchor="start" fill="#000" >Climat</text>
<text x="14.9" y="1255.3" font-size="14.75" font-weight="normal" font-style="italic" text-anchor="start" fill="#000" >* : Les émissions de GES présentées ici ne prennent pas en compte le secteur "Branche énergie", le secteur des déchets est quant à lui inclus dans celui de l'industrie.</text>
<text x="14.9" y="1271.1" font-size="14.75" font-weight="normal" font-style="italic" text-anchor="start" fill="#000" >** : Correspond au solde « Production – Consommation » dans le cas d’un Export ou au solde « Consommation – Production » dans le cas d’un Import.</text>
<text x="15.3" y="1288.2" font-size="14.75" font-weight="normal" font-style="italic" text-anchor="start" fill="#000" >Note : les flux qui apparaissent avec une valeur égale à "0" sont en réalité &gt; 0 et &lt; 0.5 GWh.</text>
<text x="1958.8" y="1273.0" font-size="16" font-weight="normal" font-style="normal" text-anchor="start" fill="#000" >Source : ATMO Grand Est Invent'Air V2025</text>
</svg>
</body></html>
